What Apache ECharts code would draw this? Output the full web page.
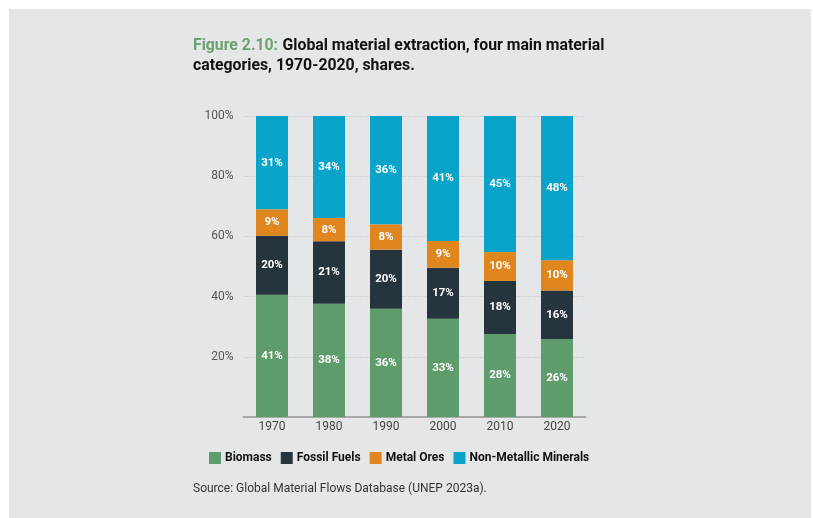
<!DOCTYPE html>
<html>
<head>
<meta charset="utf-8">
<script src="https://cdn.jsdelivr.net/npm/echarts@6/dist/echarts.min.js"></script>
<style>
  html, body { margin: 0; padding: 0; background: #ffffff; }
  #wrap { position: absolute; left: 9px; top: 9px; width: 802px; height: 509px; background: #e5e6e8; }
  #chart { width: 802px; height: 509px; }
</style>
</head>
<body>
<div id="wrap"><div id="chart"></div></div>
<script>
  // years on the x axis
  var years = ['1970', '1980', '1990', '2000', '2010', '2020'];
  var yTicks = ['0%', '20%', '40%', '60%', '80%', '100%'];

  // shares (%) as drawn
  var biomass = [40.6, 37.6, 36.0, 32.6, 27.6, 25.9];
  var fossilFuels = [19.6, 20.8, 19.6, 17.0, 17.6, 16.1];
  var metalOres = [8.8, 7.7, 8.4, 8.9, 9.6, 10.1];
  var nonMetallic = [31.0, 33.9, 36.0, 41.5, 45.2, 47.9];

  // printed labels inside the bars
  var biomassLbl = [41, 38, 36, 33, 28, 26];
  var fossilLbl = [20, 21, 20, 17, 18, 16];
  var metalLbl = [9, 8, 8, 9, 10, 10];
  var nonMetalLbl = [31, 34, 36, 41, 45, 48];

  var chart = echarts.init(document.getElementById('chart'));

  function makeSeries(name, data, labels, color) {
    return {
      name: name,
      type: 'bar',
      stack: 'total',
      barWidth: 32,
      data: data,
      itemStyle: { color: color },
      label: {
        show: true,
        position: 'inside',
        color: '#ffffff',
        fontFamily: 'Roboto',
        fontWeight: 'bold',
        fontSize: 11.5,
        formatter: function (p) { return labels[p.dataIndex] + '%'; }
      }
    };
  }

  var option = {
    textStyle: { fontFamily: 'Roboto' },
    title: {
      left: 179,
      top: 22,
      text: '{g|Figure 2.10:} {b|Global material extraction, four main material}\n{b|categories, 1970-2020, shares.}',
      textStyle: {
        rich: {
          g: { color: '#6aa271', fontSize: 15.8, fontWeight: 'bold', fontFamily: 'Roboto', lineHeight: 20 },
          b: { color: '#111111', fontSize: 15.8, fontWeight: 'bold', fontFamily: 'Roboto', lineHeight: 20 }
        }
      }
    },
    legend: {
      left: 195,
      top: 438,
      itemWidth: 12,
      itemHeight: 12,
      itemGap: 9,
      icon: 'rect',
      textStyle: { color: '#111111', fontSize: 12, fontWeight: 'bold', fontFamily: 'Roboto', padding: [0, 0, 0, -1] },
      data: ['Biomass', 'Fossil Fuels', 'Metal Ores', 'Non-Metallic Minerals']
    },
    grid: { left: 234.5, right: 225.5, top: 107, bottom: 101, containLabel: false },
    xAxis: {
      type: 'category',
      data: years,
      axisLine: { lineStyle: { color: '#a6a7a9', width: 2 } },
      axisTick: { show: false },
      axisLabel: { color: '#444444', fontSize: 12, margin: 4 }
    },
    yAxis: {
      type: 'value',
      min: 0,
      max: 100,
      interval: 20,
      axisLine: { show: false },
      axisTick: { show: false },
      axisLabel: {
        color: '#555555',
        fontSize: 12,
        margin: 10,
        formatter: function (v) { return v === 0 ? '' : yTicks[v / 20]; }
      },
      splitLine: { lineStyle: { color: '#b9babc', type: [1, 2], width: 1 } }
    },
    graphic: [{
      type: 'text',
      left: 184,
      top: 474,
      style: {
        text: 'Source: Global Material Flows Database (UNEP 2023a).',
        fill: '#333333',
        fontSize: 12,
        fontFamily: 'Roboto'
      }
    }],
    series: [
      makeSeries('Biomass', biomass, biomassLbl, '#5f9c6b'),
      makeSeries('Fossil Fuels', fossilFuels, fossilLbl, '#25343d'),
      makeSeries('Metal Ores', metalOres, metalLbl, '#e0861f'),
      makeSeries('Non-Metallic Minerals', nonMetallic, nonMetalLbl, '#0aa3c9')
    ]
  };

  chart.setOption(option);
</script>
</body>
</html>
